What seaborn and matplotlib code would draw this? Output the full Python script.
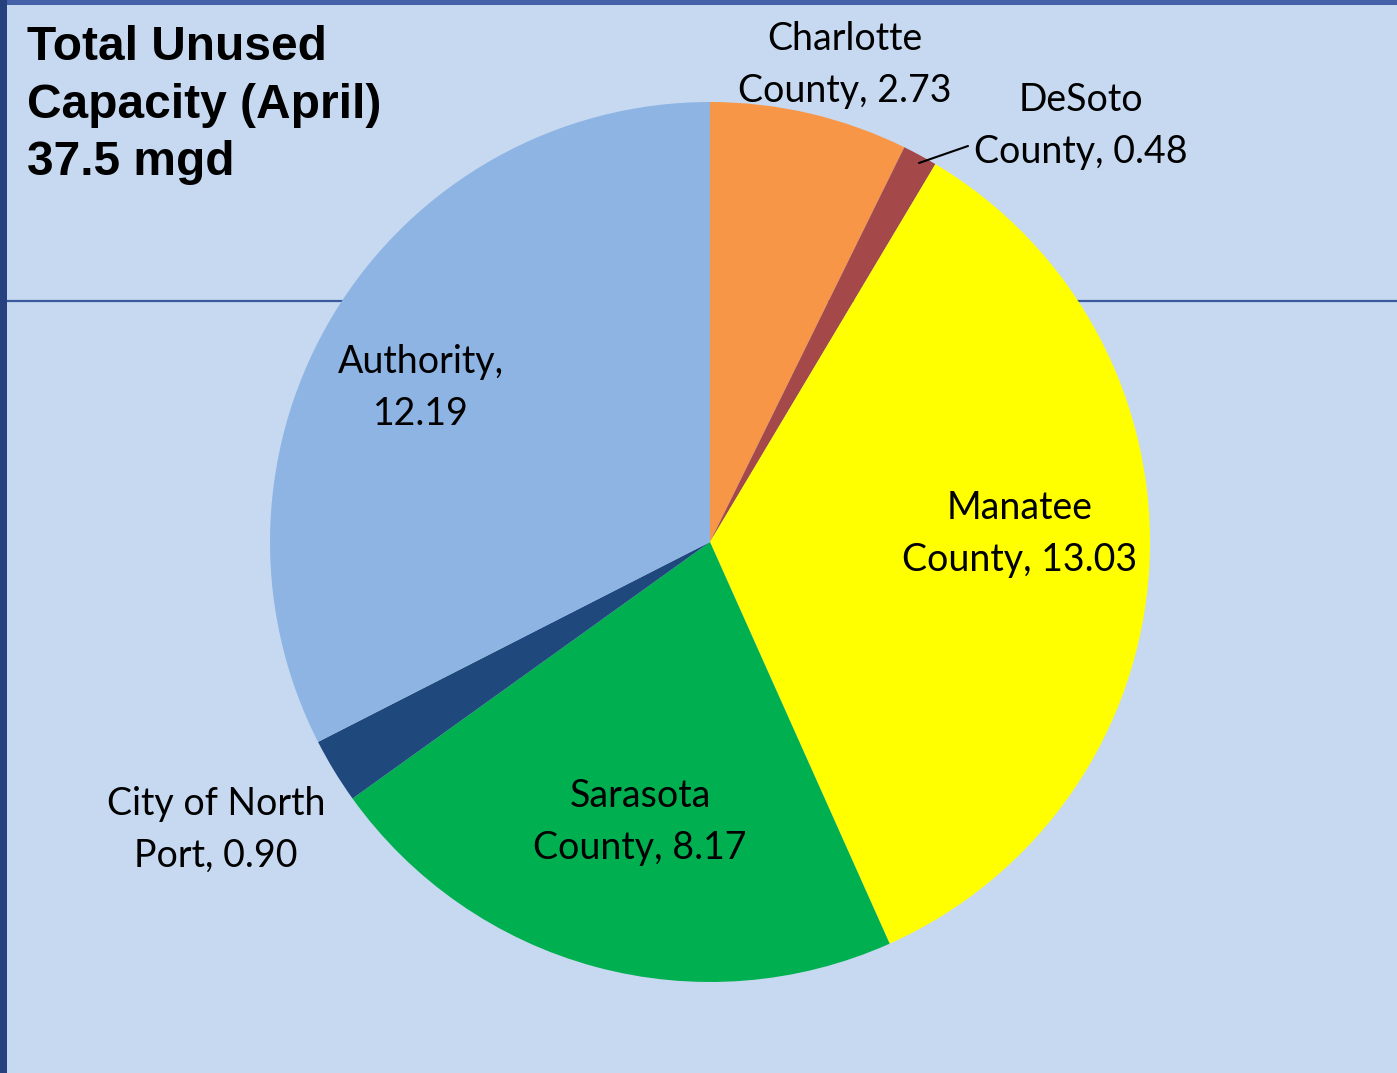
import matplotlib.pyplot as plt
import seaborn as sns

# data (mgd)
regions = ['Charlotte\nCounty', 'DeSoto\nCounty', 'Manatee\nCounty', 'Sarasota\nCounty',
           'City of North\nPort', 'Authority,']
values = [2.73, 0.48, 13.03, 8.17, 0.90, 12.19]
colors = ['#F79646', '#A5484A', '#FFFF00', '#00B050', '#1F497D', '#8EB4E3']
title = 'Total Unused\nCapacity (April)\n37.5 mgd'

sns.set_theme(style='white')
plt.rcParams['font.family'] = ['Lato', 'DejaVu Sans']

W, H = 1397, 1073
fig = plt.figure(figsize=(W / 100, H / 100), dpi=100)
fig.patch.set_facecolor('#C6D9F1')
ax = fig.add_axes([0, 0, 1, 1])
ax.set_facecolor('#C6D9F1')

# thin horizontal rule behind the pie
ax.plot([7, W], [H - 301, H - 301], color='#3A5A9C', lw=1.6, zorder=0)

cx, cy, r = 710, H - 542, 440
wedges, _ = ax.pie(values, colors=colors, startangle=90, counterclock=False,
                   center=(cx, cy), radius=r, frame=True,
                   wedgeprops=dict(linewidth=0))
for w in wedges:
    w.set_zorder(2)

ax.set_xlim(0, W)
ax.set_ylim(0, H)
ax.set_aspect('equal')
ax.axis('off')

# slice labels
lab = [
    ('Charlotte\nCounty, 2.73', 845, 65),
    ('DeSoto\nCounty, 0.48', 1081, 126),
    ('Manatee\nCounty, 13.03', 1020, 534),
    ('Sarasota\nCounty, 8.17', 640, 822),
    ('City of North\nPort, 0.90', 216, 830),
    ('Authority,\n12.19', 421, 388),
]
for txt, x, y in lab:
    ax.text(x, H - y, txt, ha='center', va='center', fontsize=27,
            color='black', linespacing=1.52, zorder=5)

# DeSoto leader line
ax.plot([919, 968], [H - 163, H - 146], color='black', lw=1.5, zorder=5)

ax.text(27, H - 25, title, ha='left', va='top', fontsize=34.5, fontweight='bold',
        color='black', family=['Liberation Sans', 'DejaVu Sans'],
        linespacing=1.36, zorder=5)

# frame borders
ax.add_patch(plt.Rectangle((0, H - 5), W, 5, color='#4561A8', zorder=6, lw=0))
ax.add_patch(plt.Rectangle((0, 0), 7, H, color='#27407E', zorder=6, lw=0))

fig.savefig('out.png', dpi=100, facecolor=fig.get_facecolor())
